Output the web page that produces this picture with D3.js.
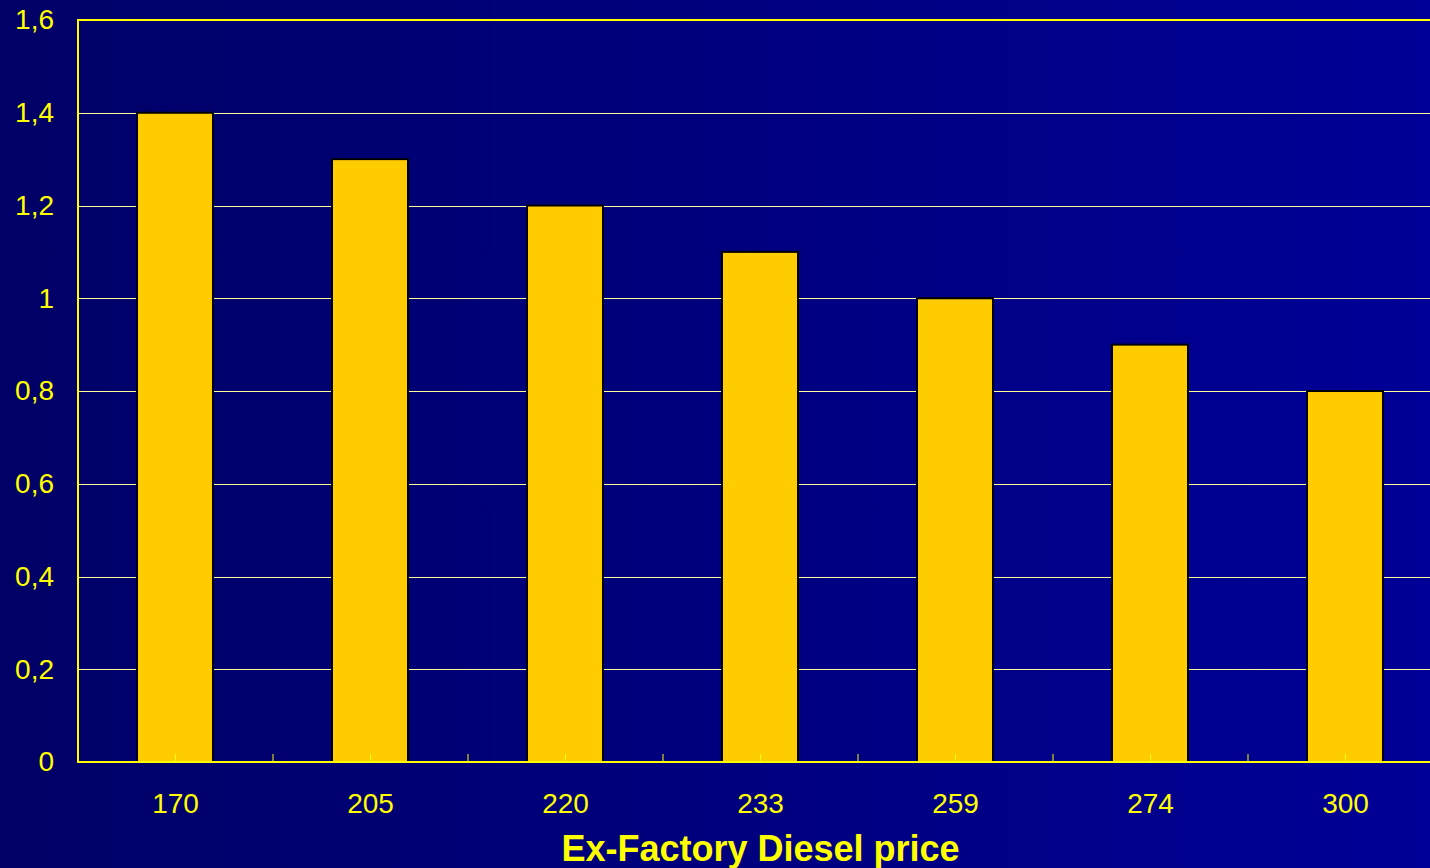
<!DOCTYPE html>
<html>
<head>
<meta charset="utf-8">
<script src="https://cdn.jsdelivr.net/npm/d3@7"></script>
<style>
  html, body { margin: 0; padding: 0; background: #000066; overflow: hidden; }
  svg { display: block; }
</style>
</head>
<body>
<div id="chart"></div>
<script>
// Ex-Factory diesel price chart

const categories = ['170', '205', '220', '233', '259', '274', '300'];
const values = [1.4, 1.3, 1.2, 1.1, 1.0, 0.9, 0.8];
const yTicks = [0, 0.2, 0.4, 0.6, 0.8, 1.0, 1.2, 1.4, 1.6];
const xTitle = 'Ex-Factory Diesel price';

const W = 1430, H = 868;
const margin = { top: 20, left: 78 };
const plotBottom = 762;
const bandStep = 195;

const svg = d3.select('#chart').append('svg')
    .attr('width', W)
    .attr('height', H);

// background gradient, darker on the left
const defs = svg.append('defs');
const grad = defs.append('linearGradient')
    .attr('id', 'bg')
    .attr('x1', '0%').attr('x2', '100%')
    .attr('y1', '0%').attr('y2', '0%');
grad.append('stop').attr('offset', '0%').attr('stop-color', '#000066');
grad.append('stop').attr('offset', '100%').attr('stop-color', '#000096');

svg.append('rect')
    .attr('width', W)
    .attr('height', H)
    .attr('fill', 'url(#bg)');

const xScale = d3.scaleBand()
    .domain(categories)
    .range([margin.left, margin.left + bandStep * categories.length])
    .paddingInner(0)
    .paddingOuter(0);

const yScale = d3.scaleLinear()
    .domain([0, 1.6])
    .range([plotBottom, margin.top]);

const fmt = d => d === 0 ? '0' : (d === 1 ? '1' : d3.format('.1f')(d).replace('.', ','));

// gridlines
svg.append('g')
    .selectAll('line')
    .data(yTicks.filter(d => d > 0 && d < 1.6))
    .enter()
    .append('line')
    .attr('x1', margin.left)
    .attr('x2', W)
    .attr('y1', d => Math.round(yScale(d)) + 0.5)
    .attr('y2', d => Math.round(yScale(d)) + 0.5)
    .attr('stroke', '#ffff99')
    .attr('stroke-width', 1);

// top border
svg.append('line')
    .attr('x1', margin.left)
    .attr('x2', W)
    .attr('y1', yScale(1.6))
    .attr('y2', yScale(1.6))
    .attr('stroke', '#ffff00')
    .attr('stroke-width', 2);

// bars
const barWidth = 76;
svg.append('g')
    .selectAll('rect')
    .data(values)
    .enter()
    .append('rect')
    .attr('x', (d, i) => xScale(categories[i]) + xScale.bandwidth() / 2 - barWidth / 2 - 0.5)
    .attr('y', d => yScale(d))
    .attr('width', barWidth)
    .attr('height', d => yScale(0) - yScale(d))
    .attr('fill', '#ffcc00')
    .attr('stroke', '#000000')
    .attr('stroke-width', 2);

// x axis
const xAxis = svg.append('g')
    .attr('transform', `translate(0,${plotBottom})`)
    .call(d3.axisBottom(xScale).tickSize(0).tickPadding(31));
xAxis.select('.domain').remove();
xAxis.selectAll('text')
    .attr('fill', '#ffff00')
    .style('font-family', 'Arial, "Liberation Sans", sans-serif')
    .style('font-size', '28px');

svg.append('line')
    .attr('x1', margin.left)
    .attr('x2', W)
    .attr('y1', plotBottom)
    .attr('y2', plotBottom)
    .attr('stroke', '#ffff00')
    .attr('stroke-width', 2);

// inward ticks at centers and boundaries
const tickPos = [];
categories.forEach(c => {
    tickPos.push(xScale(c) + xScale.bandwidth() / 2);
    tickPos.push(xScale(c) + xScale.bandwidth());
});
svg.append('g')
    .selectAll('line')
    .data(tickPos.filter(x => x < W))
    .enter()
    .append('line')
    .attr('x1', d => d)
    .attr('x2', d => d)
    .attr('y1', plotBottom)
    .attr('y2', plotBottom - 8)
    .attr('stroke', '#ffff00')
    .attr('stroke-width', 1);

// y axis
const yAxis = svg.append('g')
    .attr('transform', `translate(${margin.left},0)`)
    .call(d3.axisLeft(yScale).tickValues(yTicks).tickFormat(fmt).tickSize(0).tickPadding(24));
yAxis.select('.domain').remove();
yAxis.selectAll('text')
    .attr('fill', '#ffff00')
    .style('font-family', 'Arial, "Liberation Sans", sans-serif')
    .style('font-size', '28px');

svg.append('line')
    .attr('x1', margin.left)
    .attr('x2', margin.left)
    .attr('y1', yScale(1.6) - 1)
    .attr('y2', plotBottom + 1)
    .attr('stroke', '#ffff00')
    .attr('stroke-width', 2);

// axis title
svg.append('text')
    .attr('x', (xScale.range()[0] + xScale.range()[1]) / 2)
    .attr('y', 861)
    .attr('text-anchor', 'middle')
    .attr('fill', '#ffff00')
    .style('font-family', 'Arial, "Liberation Sans", sans-serif')
    .style('font-size', '36px')
    .style('font-weight', 'bold')
    .text(xTitle);
</script>
</body>
</html>
